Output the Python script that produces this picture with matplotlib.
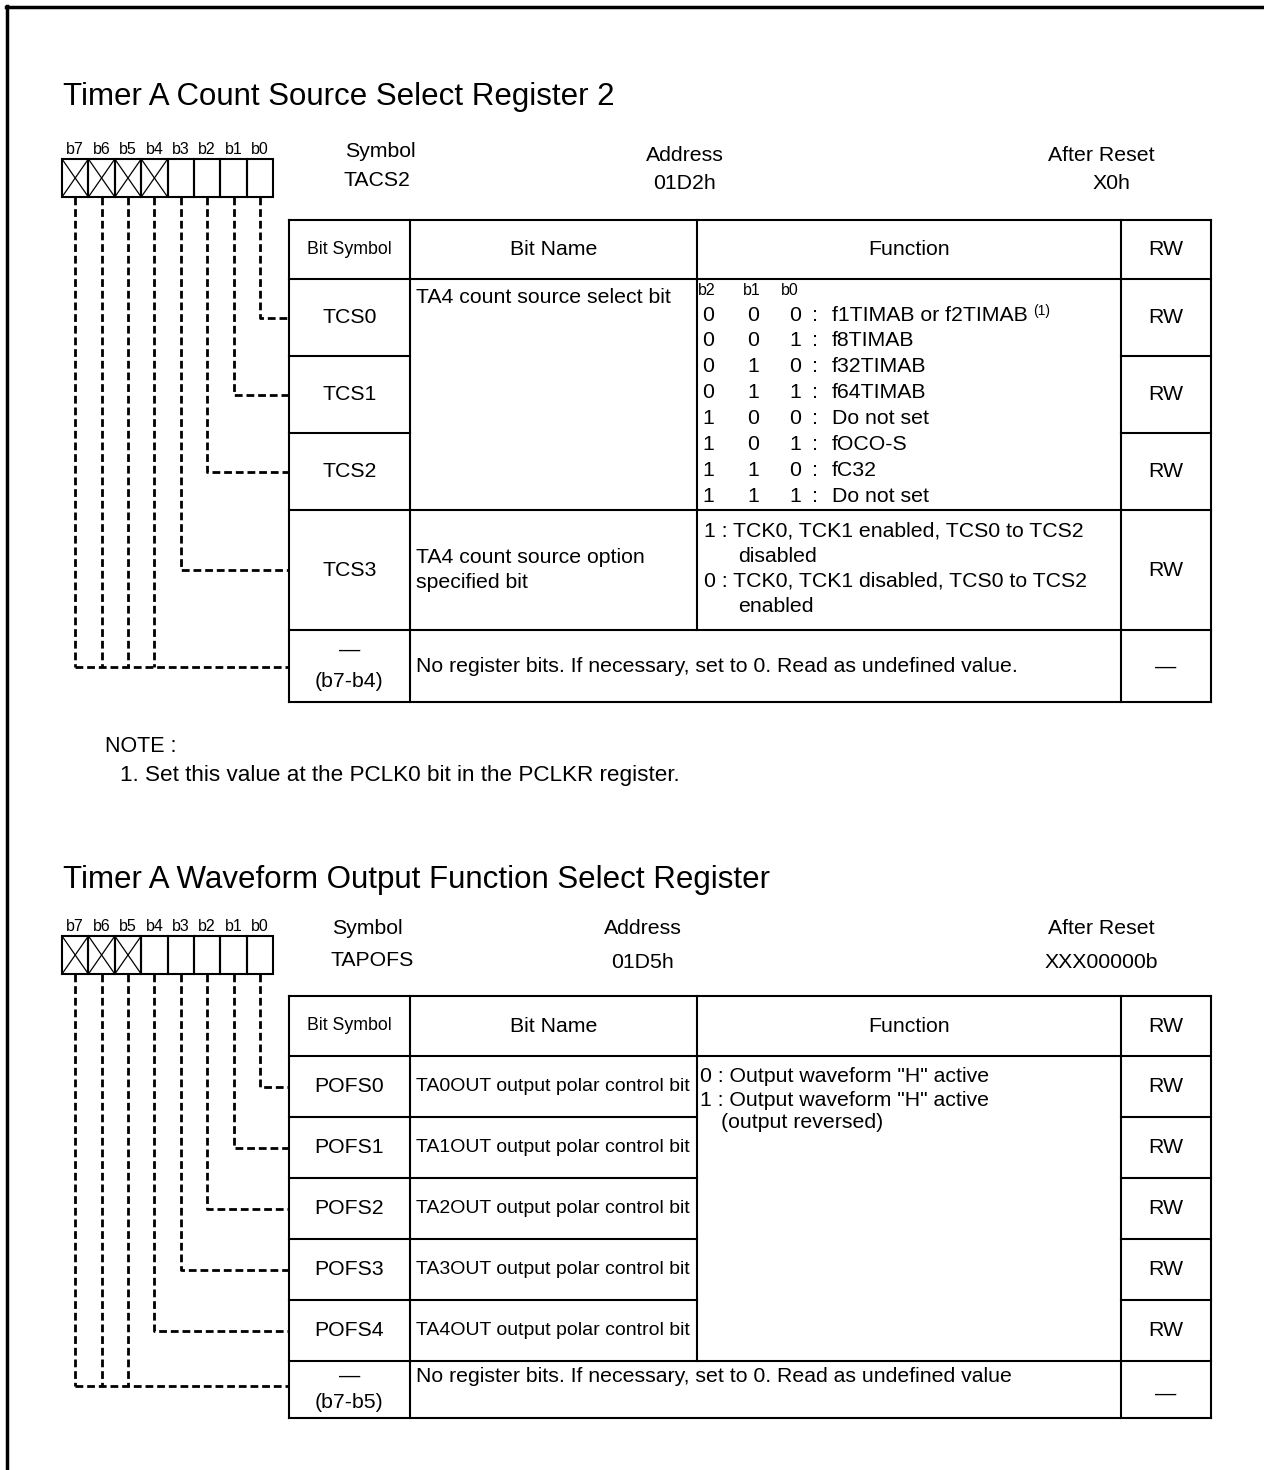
import matplotlib
matplotlib.use("Agg")
import matplotlib.pyplot as plt
from matplotlib.lines import Line2D

plt.rcParams['font.family'] = ['Liberation Sans', 'DejaVu Sans']

# ---------------- data ----------------
bit_labels = ["b7", "b6", "b5", "b4", "b3", "b2", "b1", "b0"]

reg1_title = "Timer A Count Source Select Register 2"
reg1_symbol = "TACS2"
reg1_address = "01D2h"
reg1_reset = "X0h"
reg1_unused_bits = ["b7", "b6", "b5", "b4"]
reg1_symbols = ["TCS0", "TCS1", "TCS2", "TCS3"]
reg1_rw = ["RW", "RW", "RW", "RW", "—"]
reg1_name_tcs = "TA4 count source select bit"
reg1_name_tcs3 = ["TA4 count source option", "specified bit"]
reg1_sel_b2 = ["0", "0", "0", "0", "1", "1", "1", "1"]
reg1_sel_b1 = ["0", "0", "1", "1", "0", "0", "1", "1"]
reg1_sel_b0 = ["0", "1", "0", "1", "0", "1", "0", "1"]
reg1_sel_src = ["f1TIMAB or f2TIMAB", "f8TIMAB", "f32TIMAB", "f64TIMAB",
                "Do not set", "fOCO-S", "fC32", "Do not set"]
reg1_tcs3_func = ["1 : TCK0, TCK1 enabled, TCS0 to TCS2", "disabled",
                  "0 : TCK0, TCK1 disabled, TCS0 to TCS2", "enabled"]
reg1_unused_sym = ["—", "(b7-b4)"]
reg1_unused_text = "No register bits. If necessary, set to 0. Read as undefined value."
note_head = "NOTE :"
note_text = "1. Set this value at the PCLK0 bit in the PCLKR register."

reg2_title = "Timer A Waveform Output Function Select Register"
reg2_symbol = "TAPOFS"
reg2_address = "01D5h"
reg2_reset = "XXX00000b"
reg2_unused_bits = ["b7", "b6", "b5"]
reg2_symbols = ["POFS0", "POFS1", "POFS2", "POFS3", "POFS4"]
reg2_names = ["TA0OUT output polar control bit", "TA1OUT output polar control bit",
              "TA2OUT output polar control bit", "TA3OUT output polar control bit",
              "TA4OUT output polar control bit"]
reg2_rw = ["RW", "RW", "RW", "RW", "RW", "—"]
reg2_func = ['0 : Output waveform "H" active', '1 : Output waveform "H" active',
             '(output reversed)']
reg2_unused_sym = ["—", "(b7-b5)"]
reg2_unused_text = "No register bits. If necessary, set to 0. Read as undefined value"

headers = ["Bit Symbol", "Bit Name", "Function", "RW"]

# ---------------- layout ----------------
W, H = 1264, 1470
fig = plt.figure(figsize=(W / 100, H / 100), dpi=100)
ax = fig.add_axes([0, 0, 1, 1])
ax.set_xlim(0, W)
ax.set_ylim(H, 0)
ax.axis('off')

LW = 1.5
DASH = dict(color='black', lw=2.0, linestyle=(0, (2.8, 1.4)), solid_capstyle='butt',
            dash_capstyle='butt')
FS = 15.3
TITLE_FS = 22.5
SMALL_FS = 11.5
cols = [289, 410, 697, 1121, 1211]
box_x0, box_w = 62, 26.4


def line(xs, ys, **kw):
    ax.add_line(Line2D(xs, ys, **kw))


def hline(y, x0, x1):
    line([x0, x1], [y, y], color='black', lw=LW, solid_capstyle='projecting')


def vline(x, y0, y1):
    line([x, x], [y0, y1], color='black', lw=LW, solid_capstyle='projecting')


def txt(x, y, s, size=FS, ha='left', va='center', **kw):
    ax.text(x, y, s, fontsize=size, ha=ha, va=va, color='black', **kw)


# frame
line([6, W], [7, 7], color='black', lw=2.5)
line([7, 7], [6, H], color='black', lw=2.5)


def bit_boxes(ytop, ybot, ylab, unused):
    for i, b in enumerate(bit_labels):
        x0 = box_x0 + i * box_w
        x1 = x0 + box_w
        ax.add_patch(plt.Rectangle((x0, ytop), box_w, ybot - ytop, fill=False,
                                   lw=LW, ec='black'))
        if b in unused:
            line([x0, x1], [ytop, ybot], color='black', lw=0.9)
            line([x0, x1], [ybot, ytop], color='black', lw=0.9)
        txt(x0 + box_w / 2, ylab, b, size=SMALL_FS, ha='center', va='bottom')


def bit_center(b):
    return box_x0 + bit_labels.index(b) * box_w + box_w / 2


def hdr(top, bot):
    yc = (top + bot) / 2
    centers = [(cols[i] + cols[i + 1]) / 2 for i in range(4)]
    txt(centers[0], yc, headers[0], size=12.8, ha='center')
    for c, h in zip(centers[1:], headers[1:]):
        txt(c, yc, h, ha='center')


sym_cx = (cols[0] + cols[1]) / 2
rw_cx = (cols[3] + cols[4]) / 2
left, right = cols[0], cols[-1]

# ================= Register 1 =================
txt(63, 97, reg1_title, size=TITLE_FS)
bit_boxes(159, 197, 157, reg1_unused_bits)
txt(380, 151, "Symbol", ha='center')
txt(377, 180, reg1_symbol, ha='center')
txt(685, 155, "Address", ha='center')
txt(685, 183, reg1_address, ha='center')
txt(1101, 155, "After Reset", ha='center')
txt(1111, 183, reg1_reset, ha='center')

t1_top = 220
t1_rows = [279, 356, 433, 510, 630, 702]
hline(t1_top, left, right)
hline(t1_rows[0], left, right)
for y in t1_rows[1:3]:
    hline(y, cols[0], cols[1])
    hline(y, cols[3], cols[4])
for y in t1_rows[3:]:
    hline(y, left, right)
for x in [cols[0], cols[1], cols[3], cols[4]]:
    vline(x, t1_top, t1_rows[-1])
vline(cols[2], t1_top, t1_rows[-2])
hdr(t1_top, t1_rows[0])

row_bounds1 = list(zip(t1_rows[:-1], t1_rows[1:]))
for k, ((a, b), s, rw) in enumerate(zip(row_bounds1[:4], reg1_symbols, reg1_rw[:4])):
    yc = (a + b) / 2
    txt(sym_cx, yc, s, ha='center')
    txt(rw_cx, yc, rw, ha='center')
    bx = bit_center(bit_labels[7 - k])
    line([bx, bx, cols[0]], [197, yc, yc], **DASH)

# unused row
yc1 = 667
txt(sym_cx, 650, reg1_unused_sym[0], ha='center')
txt(sym_cx, 681, reg1_unused_sym[1], ha='center')
txt(416, 666, reg1_unused_text)
txt(rw_cx, yc1, reg1_rw[4], ha='center')
for bb in reg1_unused_bits:
    bx = bit_center(bb)
    line([bx, bx], [197, yc1], **DASH)
line([bit_center("b7"), cols[0]], [yc1, yc1], **DASH)

# bit names
txt(416, 297, reg1_name_tcs)
txt(416, 557, reg1_name_tcs3[0])
txt(416, 582, reg1_name_tcs3[1])

# function selection table
txt(707, 290, "b2", size=SMALL_FS, ha='center')
txt(752, 290, "b1", size=SMALL_FS, ha='center')
txt(790, 290, "b0", size=SMALL_FS, ha='center')
for i in range(len(reg1_sel_src)):
    y = 315 + i * 25.9
    txt(708, y, reg1_sel_b2[i], ha='center')
    txt(753, y, reg1_sel_b1[i], ha='center')
    txt(795, y, reg1_sel_b0[i], ha='center')
    txt(815, y, ":", ha='center')
    txt(832, y, reg1_sel_src[i])
    if i == 0:
        txt(1033, y - 4, "(1)", size=10)

txt(704, 531, reg1_tcs3_func[0])
txt(738, 556, reg1_tcs3_func[1])
txt(704, 581, reg1_tcs3_func[2])
txt(738, 606, reg1_tcs3_func[3])

# note
txt(105, 746, note_head, size=15.5)
txt(120, 775, note_text, size=16.2)

# ================= Register 2 =================
txt(63, 880, reg2_title, size=TITLE_FS)
bit_boxes(936, 974, 934, reg2_unused_bits)
txt(367, 928, "Symbol", ha='center')
txt(372, 960, reg2_symbol, ha='center')
txt(643, 928, "Address", ha='center')
txt(643, 962, reg2_address, ha='center')
txt(1101, 928, "After Reset", ha='center')
txt(1101, 962, reg2_reset, ha='center')

t2_top = 996
t2_rows = [1056, 1117, 1178, 1239, 1300, 1361, 1418]
hline(t2_top, left, right)
hline(t2_rows[0], left, right)
for y in t2_rows[1:-2]:
    hline(y, cols[0], cols[1])
    hline(y, cols[1], cols[2])
    hline(y, cols[3], cols[4])
for y in t2_rows[-2:]:
    hline(y, left, right)
for x in [cols[0], cols[1], cols[3], cols[4]]:
    vline(x, t2_top, t2_rows[-1])
vline(cols[2], t2_top, t2_rows[-2])
hdr(t2_top, t2_rows[0])

row_bounds2 = list(zip(t2_rows[:-1], t2_rows[1:]))
for k, ((a, b), s, nm, rw) in enumerate(zip(row_bounds2[:5], reg2_symbols, reg2_names,
                                            reg2_rw[:5])):
    yc = (a + b) / 2
    txt(sym_cx, yc, s, ha='center')
    txt(416, yc, nm, size=14)
    txt(rw_cx, yc, rw, ha='center')
    bx = bit_center(bit_labels[7 - k])
    line([bx, bx, cols[0]], [974, yc, yc], **DASH)

yc2 = 1386
txt(sym_cx, 1376, reg2_unused_sym[0], ha='center')
txt(sym_cx, 1403, reg2_unused_sym[1], ha='center')
txt(416, 1376, reg2_unused_text)
txt(rw_cx, 1394, reg2_rw[5], ha='center')
for bb in reg2_unused_bits:
    bx = bit_center(bb)
    line([bx, bx], [974, yc2], **DASH)
line([bit_center("b7"), cols[0]], [yc2, yc2], **DASH)

txt(700, 1077, reg2_func[0])
txt(700, 1100, reg2_func[1])
txt(721, 1123, reg2_func[2])

fig.savefig("out.png", dpi=100)
